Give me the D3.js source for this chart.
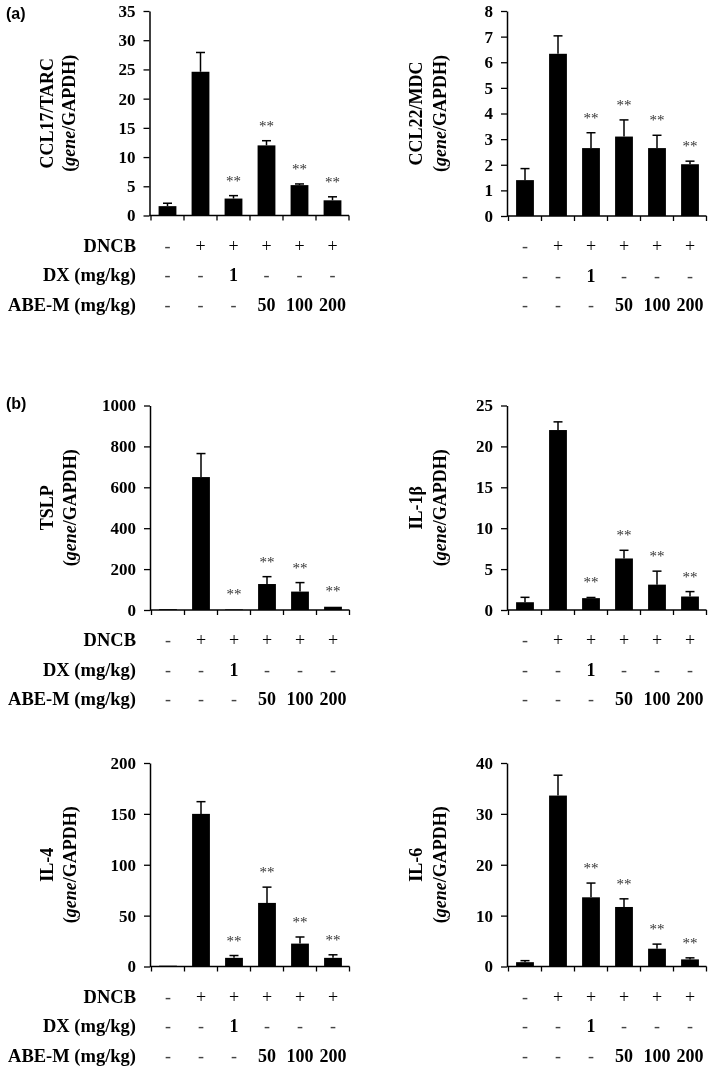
<!DOCTYPE html>
<html>
<head>
<meta charset="utf-8">
<script src="https://cdn.jsdelivr.net/npm/d3@7"></script>
<style>
  html, body { margin: 0; padding: 0; background: #fff; }
  svg { display: block; will-change: transform; -webkit-font-smoothing: antialiased; }
</style>
</head>
<body>
<svg id="chart" width="709" height="1069"></svg>
<script>
// ---------------- DATA ----------------
const groups = ["Normal", "DNCB", "DX 1", "ABE-M 50", "ABE-M 100", "ABE-M 200"];
const rowLabels = ["DNCB", "DX (mg/kg)", "ABE-M (mg/kg)"];
const dncbRow = ["-", "+", "+", "+", "+", "+"];
const dxRow = ["-", "-", "1", "-", "-", "-"];
const abeRow = ["-", "-", "-", "50", "100", "200"];
const significance = ["", "", "**", "**", "**", "**"];

const ccl17Mean = [1.6, 24.6, 2.9, 12.0, 5.2, 2.6];
const ccl17Err  = [0.5, 3.3, 0.5, 0.8, 0.2, 0.6];
const ccl17Ticks = [0, 5, 10, 15, 20, 25, 30, 35];

const ccl22Mean = [1.4, 6.33, 2.65, 3.1, 2.65, 2.02];
const ccl22Err  = [0.45, 0.7, 0.6, 0.65, 0.5, 0.12];
const ccl22Ticks = [0, 1, 2, 3, 4, 5, 6, 7, 8];

const tslpMean = [4, 650, 3, 127, 90, 16];
const tslpErr  = [1, 115, 1, 36, 44, 2];
const tslpTicks = [0, 200, 400, 600, 800, 1000];

const il1bMean = [0.95, 22.0, 1.45, 6.3, 3.1, 1.65];
const il1bErr  = [0.6, 1.0, 0.08, 1.0, 1.65, 0.6];
const il1bTicks = [0, 5, 10, 15, 20, 25];

const il4Mean = [0.8, 150, 8.5, 62.5, 22.5, 8.5];
const il4Err  = [0.3, 12, 2.3, 15.5, 6.5, 3];
const il4Ticks = [0, 50, 100, 150, 200];

const il6Mean = [0.85, 33.6, 13.6, 11.7, 3.5, 1.4];
const il6Err  = [0.3, 4.0, 2.8, 1.6, 0.9, 0.3];
const il6Ticks = [0, 10, 20, 30, 40];

// ---------------- LAYOUT ----------------
const svg = d3.select("#chart");
const SERIF = "'Liberation Serif', 'Times New Roman', serif";
const SANS = "'Liberation Sans', Arial, sans-serif";

const panels = [
  { title: "CCL17/TARC", mean: ccl17Mean, err: ccl17Err, ticks: ccl17Ticks, axisX: 149.5, top: 11, bottom: 215.5, labels: true, titleX: [53, 75] },
  { title: "CCL22/MDC", mean: ccl22Mean, err: ccl22Err, ticks: ccl22Ticks, axisX: 507, top: 11, bottom: 216, labels: false, titleX: [422, 446] },
  { title: "TSLP", mean: tslpMean, err: tslpErr, ticks: tslpTicks, axisX: 150, top: 405.5, bottom: 610, labels: true, titleX: [53, 76] },
  { title: "IL-1β", mean: il1bMean, err: il1bErr, ticks: il1bTicks, axisX: 507, top: 405.5, bottom: 610, labels: false, titleX: [422, 446] },
  { title: "IL-4", mean: il4Mean, err: il4Err, ticks: il4Ticks, axisX: 150, top: 763, bottom: 966.5, labels: true, titleX: [53, 76] },
  { title: "IL-6", mean: il6Mean, err: il6Err, ticks: il6Ticks, axisX: 507, top: 763, bottom: 966.5, labels: false, titleX: [422, 446] }
];

const tableRows = [dncbRow, dxRow, abeRow];
const rowOffsets = [36, 65.5, 95];

panels.forEach(p => {
  const g = svg.append("g");
  const y = d3.scaleLinear()
    .domain([0, d3.max(p.ticks)])
    .range([p.bottom, p.top]);
  const x = d3.scaleBand()
    .domain(groups)
    .range([p.axisX + 1.5, p.axisX + 1.5 + 198])
    .padding(0);
  const bw = x.bandwidth();
  const barW = bw * 0.54;

  // bars
  g.selectAll("rect.bar")
    .data(groups)
    .join("rect")
    .attr("class", "bar")
    .attr("x", (d) => x(d) + (bw - barW) / 2)
    .attr("width", barW)
    .attr("y", (d, i) => y(p.mean[i]))
    .attr("height", (d, i) => y(0) - y(p.mean[i]))
    .attr("fill", "#000");

  // error bars (upper only)
  groups.forEach((d, i) => {
    const cx = x(d) + bw / 2;
    const y0 = y(p.mean[i]);
    const y1 = y(p.mean[i] + p.err[i]);
    if (y0 - y1 > 0.5) {
      g.append("line").attr("x1", cx).attr("x2", cx).attr("y1", y0).attr("y2", y1)
        .attr("stroke", "#000").attr("stroke-width", 1.5);
      g.append("line").attr("x1", cx - 4.5).attr("x2", cx + 4.5).attr("y1", y1).attr("y2", y1)
        .attr("stroke", "#000").attr("stroke-width", 1.5);
    }
    if (significance[i]) {
      g.append("text")
        .attr("x", cx)
        .attr("y", y1 - 10)
        .attr("text-anchor", "middle")
        .attr("font-family", SERIF)
        .attr("font-size", 15)
        .attr("fill", "#333")
        .text(significance[i]);
    }
  });

  // y axis
  const yAxis = d3.axisLeft(y).tickValues(p.ticks).tickSize(6).tickSizeOuter(0).tickPadding(8)
    .tickFormat(d3.format("d"));
  const ga = g.append("g").attr("transform", `translate(${p.axisX},0)`).call(yAxis);
  ga.select(".domain").attr("stroke", "#000").attr("stroke-width", 1.5);
  ga.selectAll(".tick line").attr("stroke", "#000").attr("stroke-width", 1.3);
  ga.selectAll(".tick text")
    .attr("font-family", SERIF).attr("font-size", 17).attr("font-weight", "bold").attr("fill", "#000");

  // x axis line + boundary ticks
  const xr = x.range();
  g.append("line").attr("x1", p.axisX).attr("x2", xr[1]).attr("y1", y(0)).attr("y2", y(0))
    .attr("stroke", "#000").attr("stroke-width", 1.5);
  const bounds = groups.map(d => x(d)).concat([xr[1]]);
  g.selectAll("line.xt").data(bounds).join("line").attr("class", "xt")
    .attr("x1", d => d).attr("x2", d => d)
    .attr("y1", y(0)).attr("y2", y(0) + 5)
    .attr("stroke", "#000").attr("stroke-width", 1.3);

  // y title
  const midY = (p.top + p.bottom) / 2;
  g.append("text")
    .attr("transform", `translate(${p.titleX[0]},${midY}) rotate(-90)`)
    .attr("text-anchor", "middle")
    .attr("font-family", SERIF).attr("font-size", 18).attr("font-weight", "bold")
    .text(p.title);
  const t2 = g.append("text")
    .attr("transform", `translate(${p.titleX[1]},${midY}) rotate(-90)`)
    .attr("text-anchor", "middle")
    .attr("font-family", SERIF).attr("font-size", 18).attr("font-weight", "bold");
  t2.append("tspan").text("(");
  t2.append("tspan").attr("font-style", "italic").text("gene");
  t2.append("tspan").text("/GAPDH)");

  // treatment table
  tableRows.forEach((row, r) => {
    const ty = p.bottom + rowOffsets[r];
    if (p.labels) {
      g.append("text")
        .attr("x", 136).attr("y", ty)
        .attr("text-anchor", "end")
        .attr("font-family", SERIF).attr("font-size", 18.5).attr("font-weight", "bold")
        .text(rowLabels[r]);
    }
    g.selectAll(null).data(row).join("text")
      .attr("x", (d, i) => x(groups[i]) + bw / 2)
      .attr("y", ty)
      .attr("text-anchor", "middle")
      .attr("font-family", SERIF)
      .attr("font-size", 18)
      .attr("font-weight", d => (d === "-" || d === "+") ? "normal" : "bold")
      .attr("fill", d => d === "-" ? "#444" : "#000")
      .text(d => d);
  });
});

// panel letters
svg.append("text").attr("x", 6).attr("y", 19)
  .attr("font-family", SANS).attr("font-size", 16).attr("font-weight", "bold").text("(a)");
svg.append("text").attr("x", 6).attr("y", 409)
  .attr("font-family", SANS).attr("font-size", 16).attr("font-weight", "bold").text("(b)");
</script>
</body>
</html>
